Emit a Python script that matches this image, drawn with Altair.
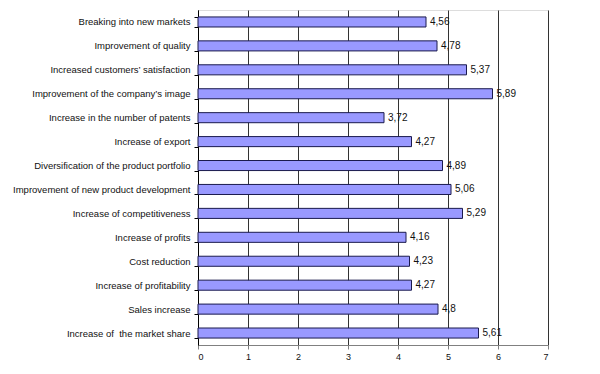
import altair as alt
import pandas as pd

categories = [
    "Breaking into new markets",
    "Improvement of quality",
    "Increased customers’ satisfaction",
    "Improvement of the company’s image",
    "Increase in the number of patents",
    "Increase of export",
    "Diversification of the product portfolio",
    "Improvement of new product development",
    "Increase of competitiveness",
    "Increase of profits",
    "Cost reduction",
    "Increase of profitability",
    "Sales increase",
    "Increase of \u00a0the market share",
]
values = [4.56, 4.78, 5.37, 5.89, 3.72, 4.27, 4.89, 5.06, 5.29, 4.16, 4.23, 4.27, 4.8, 5.61]
value_labels = ["4,56", "4,78", "5,37", "5,89", "3,72", "4,27", "4,89", "5,06", "5,29",
                "4,16", "4,23", "4,27", "4,8", "5,61"]
x_ticks = [0, 1, 2, 3, 4, 5, 6, 7]

df = pd.DataFrame({"cat": categories, "val": values, "lab": value_labels})

FONT = "Liberation Sans"

y_enc = alt.Y(
    "cat:N",
    sort=categories,
    title=None,
    scale=alt.Scale(paddingInner=0.58, paddingOuter=0.29),
    axis=alt.Axis(
        tickBand="extent",
        tickSize=4,
        tickColor="#000000",
        domainColor="#000000",
        labelPadding=4,
        labelFont=FONT,
        labelFontSize=9.5,
        labelColor="#111111",
        grid=False,
        labelLimit=300,
    ),
)

x_enc = alt.X(
    "val:Q",
    title=None,
    scale=alt.Scale(domain=[0, 7], nice=False, zero=True),
    axis=alt.Axis(
        values=x_ticks,
        format="d",
        tickSize=4,
        tickColor="#808080",
        domainColor="#808080",
        labelPadding=3,
        labelFont=FONT,
        labelFontSize=9,
        labelColor="#111111",
        grid=True,
        gridColor="#333333",
        gridWidth=1,
    ),
)

bars = alt.Chart(df).mark_bar(
    fill="#9999FF", stroke="#1a1a4d", strokeWidth=1
).encode(x=x_enc, y=y_enc)

texts = alt.Chart(df).mark_text(
    align="left", baseline="middle", dx=4, font=FONT, fontSize=10, color="#111111"
).encode(x="val:Q", y=alt.Y("cat:N", sort=categories), text="lab:N")

chart = (
    alt.layer(bars, texts)
    .properties(
        width=350,
        height=335,
        autosize=alt.AutoSizeParams(type="none"),
        padding={"left": 190, "top": 2, "right": 44, "bottom": 20},
    )
    .configure_view(stroke="#808080", strokeWidth=1)
    .configure(background="white")
)

chart.save("out.html", embed_options={"renderer": "svg", "actions": False})
